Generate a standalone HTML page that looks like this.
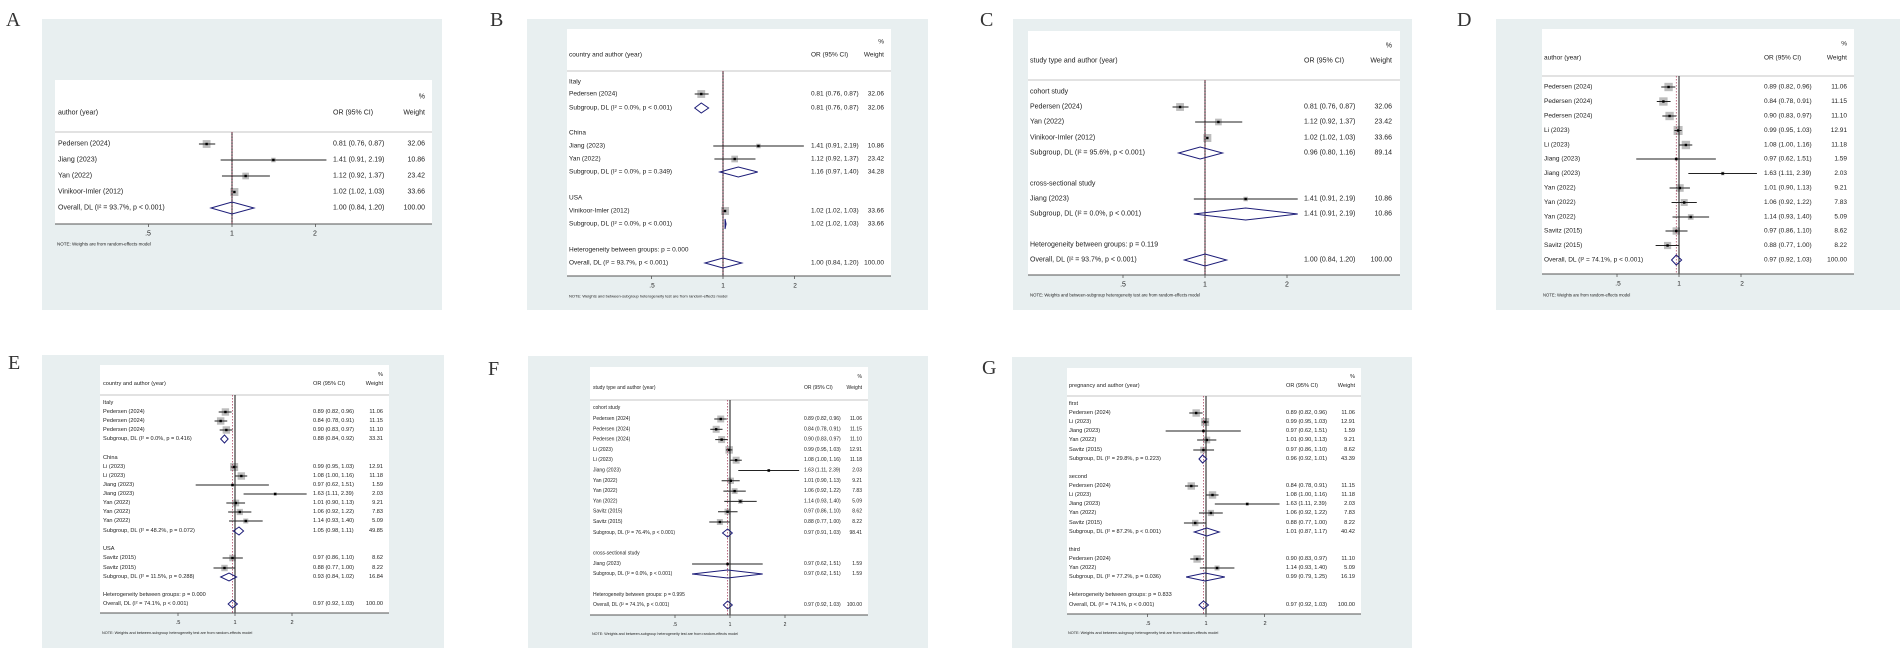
<!DOCTYPE html>
<html><head><meta charset="utf-8"><style>
html,body{margin:0;padding:0;background:#fff;width:1902px;height:654px;overflow:hidden}
svg{display:block}
text{font-family:"Liberation Sans",sans-serif;fill:#222}
.lab text{font-family:"Liberation Serif",serif;font-size:20px;fill:#333}
.r text{dominant-baseline:central}
.e{text-anchor:end}
.m{text-anchor:middle}
</style></head><body>
<svg id="s" width="1902" height="654" viewBox="0 0 1902 654" xmlns="http://www.w3.org/2000/svg">
<g fill="#e8eff0">
<rect x="42" y="19" width="400" height="291"/>
<rect x="527" y="19" width="401" height="291"/>
<rect x="1013" y="19" width="399" height="291"/>
<rect x="1496" y="19" width="404" height="291"/>
<rect x="42" y="355" width="402" height="293"/>
<rect x="528" y="356" width="400" height="292"/>
<rect x="1012" y="357" width="400" height="291"/>
</g>
<g fill="#fff">
<rect x="55" y="80" width="377" height="144"/>
<rect x="567" y="29" width="324" height="247"/>
<rect x="1028" y="31" width="372" height="244"/>
<rect x="1542" y="29" width="312" height="245"/>
<rect x="100" y="365" width="289" height="248"/>
<rect x="590" y="367" width="278" height="248"/>
<rect x="1067" y="368" width="294" height="246"/>
</g>
<g class="lab">
<text x="6" y="26">A</text><text x="490" y="26">B</text><text x="980" y="26">C</text><text x="1457" y="26">D</text>
<text x="8" y="369">E</text><text x="488" y="375">F</text><text x="982" y="374">G</text>
</g>
<g id="shapes"></g>

<!-- A -->
<g class="r" font-size="7">
<text x="425" y="97" class="e">%</text>
<text x="58" y="113">author (year)</text><text x="333" y="113">OR (95% CI)</text><text x="425" y="113" class="e">Weight</text>
<text x="58" y="144">Pedersen (2024)</text><text x="333" y="144">0.81 (0.76, 0.87)</text><text x="425" y="144" class="e">32.06</text>
<text x="58" y="160">Jiang (2023)</text><text x="333" y="160">1.41 (0.91, 2.19)</text><text x="425" y="160" class="e">10.86</text>
<text x="58" y="176">Yan (2022)</text><text x="333" y="176">1.12 (0.92, 1.37)</text><text x="425" y="176" class="e">23.42</text>
<text x="58" y="192">Vinikoor-Imler (2012)</text><text x="333" y="192">1.02 (1.02, 1.03)</text><text x="425" y="192" class="e">33.66</text>
<text x="58" y="208">Overall, DL (I² = 93.7%, p &lt; 0.001)</text><text x="333" y="208">1.00 (0.84, 1.20)</text><text x="425" y="208" class="e">100.00</text>
<text x="148" y="234" class="m">.5</text><text x="232" y="234" class="m">1</text><text x="315" y="234" class="m">2</text>
<text x="57" y="244" font-size="4.5">NOTE: Weights are from random-effects model</text>
</g>

<!-- B -->
<g class="r" font-size="6.5">
<text x="884" y="42" class="e">%</text>
<text x="569" y="55">country and author (year)</text><text x="811" y="55">OR (95% CI)</text><text x="884" y="55" class="e">Weight</text>
<text x="569" y="82">Italy</text>
<text x="569" y="94">Pedersen (2024)</text><text x="811" y="94">0.81 (0.76, 0.87)</text><text x="884" y="94" class="e">32.06</text>
<text x="569" y="108">Subgroup, DL (I² = 0.0%, p &lt; 0.001)</text><text x="811" y="108">0.81 (0.76, 0.87)</text><text x="884" y="108" class="e">32.06</text>
<text x="569" y="133">China</text>
<text x="569" y="146">Jiang (2023)</text><text x="811" y="146">1.41 (0.91, 2.19)</text><text x="884" y="146" class="e">10.86</text>
<text x="569" y="159">Yan (2022)</text><text x="811" y="159">1.12 (0.92, 1.37)</text><text x="884" y="159" class="e">23.42</text>
<text x="569" y="172">Subgroup, DL (I² = 0.0%, p = 0.349)</text><text x="811" y="172">1.16 (0.97, 1.40)</text><text x="884" y="172" class="e">34.28</text>
<text x="569" y="198">USA</text>
<text x="569" y="211">Vinikoor-Imler (2012)</text><text x="811" y="211">1.02 (1.02, 1.03)</text><text x="884" y="211" class="e">33.66</text>
<text x="569" y="224">Subgroup, DL (I² = 0.0%, p &lt; 0.001)</text><text x="811" y="224">1.02 (1.02, 1.03)</text><text x="884" y="224" class="e">33.66</text>
<text x="569" y="250">Heterogeneity between groups: p = 0.000</text>
<text x="569" y="263">Overall, DL (I² = 93.7%, p &lt; 0.001)</text><text x="811" y="263">1.00 (0.84, 1.20)</text><text x="884" y="263" class="e">100.00</text>
<text x="652" y="286" class="m">.5</text><text x="723" y="286" class="m">1</text><text x="795" y="286" class="m">2</text>
<text x="569" y="296" font-size="4">NOTE: Weights and between-subgroup heterogeneity test are from random-effects model</text>
</g>

<!-- C -->
<g class="r" font-size="7">
<text x="1392" y="46" class="e">%</text>
<text x="1030" y="61">study type and author (year)</text><text x="1304" y="61">OR (95% CI)</text><text x="1392" y="61" class="e">Weight</text>
<text x="1030" y="92">cohort study</text>
<text x="1030" y="107">Pedersen (2024)</text><text x="1304" y="107">0.81 (0.76, 0.87)</text><text x="1392" y="107" class="e">32.06</text>
<text x="1030" y="122">Yan (2022)</text><text x="1304" y="122">1.12 (0.92, 1.37)</text><text x="1392" y="122" class="e">23.42</text>
<text x="1030" y="138">Vinikoor-Imler (2012)</text><text x="1304" y="138">1.02 (1.02, 1.03)</text><text x="1392" y="138" class="e">33.66</text>
<text x="1030" y="153">Subgroup, DL (I² = 95.6%, p &lt; 0.001)</text><text x="1304" y="153">0.96 (0.80, 1.16)</text><text x="1392" y="153" class="e">89.14</text>
<text x="1030" y="184">cross-sectional study</text>
<text x="1030" y="199">Jiang (2023)</text><text x="1304" y="199">1.41 (0.91, 2.19)</text><text x="1392" y="199" class="e">10.86</text>
<text x="1030" y="214">Subgroup, DL (I² = 0.0%, p &lt; 0.001)</text><text x="1304" y="214">1.41 (0.91, 2.19)</text><text x="1392" y="214" class="e">10.86</text>
<text x="1030" y="245">Heterogeneity between groups: p = 0.119</text>
<text x="1030" y="260">Overall, DL (I² = 93.7%, p &lt; 0.001)</text><text x="1304" y="260">1.00 (0.84, 1.20)</text><text x="1392" y="260" class="e">100.00</text>
<text x="1123" y="285" class="m">.5</text><text x="1205" y="285" class="m">1</text><text x="1287" y="285" class="m">2</text>
<text x="1030" y="295" font-size="4.3">NOTE: Weights and between-subgroup heterogeneity test are from random-effects model</text>
</g>

<!-- D -->
<g class="r" font-size="6.5">
<text x="1847" y="44" class="e">%</text>
<text x="1544" y="58">author (year)</text><text x="1764" y="58">OR (95% CI)</text><text x="1847" y="58" class="e">Weight</text>
<text x="1544" y="87">Pedersen (2024)</text><text x="1764" y="87">0.89 (0.82, 0.96)</text><text x="1847" y="87" class="e">11.06</text>
<text x="1544" y="101.5">Pedersen (2024)</text><text x="1764" y="101.5">0.84 (0.78, 0.91)</text><text x="1847" y="101.5" class="e">11.15</text>
<text x="1544" y="116">Pedersen (2024)</text><text x="1764" y="116">0.90 (0.83, 0.97)</text><text x="1847" y="116" class="e">11.10</text>
<text x="1544" y="130.5">Li (2023)</text><text x="1764" y="130.5">0.99 (0.95, 1.03)</text><text x="1847" y="130.5" class="e">12.91</text>
<text x="1544" y="145">Li (2023)</text><text x="1764" y="145">1.08 (1.00, 1.16)</text><text x="1847" y="145" class="e">11.18</text>
<text x="1544" y="159">Jiang (2023)</text><text x="1764" y="159">0.97 (0.62, 1.51)</text><text x="1847" y="159" class="e">1.59</text>
<text x="1544" y="173.5">Jiang (2023)</text><text x="1764" y="173.5">1.63 (1.11, 2.39)</text><text x="1847" y="173.5" class="e">2.03</text>
<text x="1544" y="188">Yan (2022)</text><text x="1764" y="188">1.01 (0.90, 1.13)</text><text x="1847" y="188" class="e">9.21</text>
<text x="1544" y="202.5">Yan (2022)</text><text x="1764" y="202.5">1.06 (0.92, 1.22)</text><text x="1847" y="202.5" class="e">7.83</text>
<text x="1544" y="217">Yan (2022)</text><text x="1764" y="217">1.14 (0.93, 1.40)</text><text x="1847" y="217" class="e">5.09</text>
<text x="1544" y="231">Savitz (2015)</text><text x="1764" y="231">0.97 (0.86, 1.10)</text><text x="1847" y="231" class="e">8.62</text>
<text x="1544" y="245.5">Savitz (2015)</text><text x="1764" y="245.5">0.88 (0.77, 1.00)</text><text x="1847" y="245.5" class="e">8.22</text>
<text x="1544" y="260">Overall, DL (I² = 74.1%, p &lt; 0.001)</text><text x="1764" y="260">0.97 (0.92, 1.03)</text><text x="1847" y="260" class="e">100.00</text>
<text x="1618" y="284" class="m">.5</text><text x="1679" y="284" class="m">1</text><text x="1742" y="284" class="m">2</text>
<text x="1543" y="295" font-size="4.2">NOTE: Weights are from random-effects model</text>
</g>

<!-- E -->
<g class="r" font-size="5.6">
<text x="383" y="375" class="e">%</text>
<text x="103" y="384">country and author (year)</text><text x="313" y="384">OR (95% CI)</text><text x="383" y="384" class="e">Weight</text>
<text x="103" y="403">Italy</text>
<text x="103" y="412">Pedersen (2024)</text><text x="313" y="412">0.89 (0.82, 0.96)</text><text x="383" y="412" class="e">11.06</text>
<text x="103" y="421">Pedersen (2024)</text><text x="313" y="421">0.84 (0.78, 0.91)</text><text x="383" y="421" class="e">11.15</text>
<text x="103" y="430">Pedersen (2024)</text><text x="313" y="430">0.90 (0.83, 0.97)</text><text x="383" y="430" class="e">11.10</text>
<text x="103" y="439">Subgroup, DL (I² = 0.0%, p = 0.416)</text><text x="313" y="439">0.88 (0.84, 0.92)</text><text x="383" y="439" class="e">33.31</text>
<text x="103" y="458">China</text>
<text x="103" y="467">Li (2023)</text><text x="313" y="467">0.99 (0.95, 1.03)</text><text x="383" y="467" class="e">12.91</text>
<text x="103" y="476">Li (2023)</text><text x="313" y="476">1.08 (1.00, 1.16)</text><text x="383" y="476" class="e">11.18</text>
<text x="103" y="485">Jiang (2023)</text><text x="313" y="485">0.97 (0.62, 1.51)</text><text x="383" y="485" class="e">1.59</text>
<text x="103" y="494">Jiang (2023)</text><text x="313" y="494">1.63 (1.11, 2.39)</text><text x="383" y="494" class="e">2.03</text>
<text x="103" y="503">Yan (2022)</text><text x="313" y="503">1.01 (0.90, 1.13)</text><text x="383" y="503" class="e">9.21</text>
<text x="103" y="512">Yan (2022)</text><text x="313" y="512">1.06 (0.92, 1.22)</text><text x="383" y="512" class="e">7.83</text>
<text x="103" y="521">Yan (2022)</text><text x="313" y="521">1.14 (0.93, 1.40)</text><text x="383" y="521" class="e">5.09</text>
<text x="103" y="531">Subgroup, DL (I² = 48.2%, p = 0.072)</text><text x="313" y="531">1.05 (0.98, 1.11)</text><text x="383" y="531" class="e">49.85</text>
<text x="103" y="549">USA</text>
<text x="103" y="558">Savitz (2015)</text><text x="313" y="558">0.97 (0.86, 1.10)</text><text x="383" y="558" class="e">8.62</text>
<text x="103" y="568">Savitz (2015)</text><text x="313" y="568">0.88 (0.77, 1.00)</text><text x="383" y="568" class="e">8.22</text>
<text x="103" y="577">Subgroup, DL (I² = 11.5%, p = 0.288)</text><text x="313" y="577">0.93 (0.84, 1.02)</text><text x="383" y="577" class="e">16.84</text>
<text x="103" y="595">Heterogeneity between groups: p = 0.000</text>
<text x="103" y="604">Overall, DL (I² = 74.1%, p &lt; 0.001)</text><text x="313" y="604">0.97 (0.92, 1.03)</text><text x="383" y="604" class="e">100.00</text>
<text x="178" y="623" class="m">.5</text><text x="235" y="623" class="m">1</text><text x="292" y="623" class="m">2</text>
<text x="102" y="633" font-size="3.8">NOTE: Weights and between-subgroup heterogeneity test are from random-effects model</text>
</g>

<!-- F -->
<g class="r" font-size="5">
<text x="862" y="377" class="e">%</text>
<text x="593" y="388">study type and author (year)</text><text x="804" y="388">OR (95% CI)</text><text x="862" y="388" class="e">Weight</text>
<text x="593" y="408">cohort study</text>
<text x="593" y="419">Pedersen (2024)</text><text x="804" y="419">0.89 (0.82, 0.96)</text><text x="862" y="419" class="e">11.06</text>
<text x="593" y="429.3">Pedersen (2024)</text><text x="804" y="429.3">0.84 (0.78, 0.91)</text><text x="862" y="429.3" class="e">11.15</text>
<text x="593" y="439.6">Pedersen (2024)</text><text x="804" y="439.6">0.90 (0.83, 0.97)</text><text x="862" y="439.6" class="e">11.10</text>
<text x="593" y="449.9">Li (2023)</text><text x="804" y="449.9">0.99 (0.95, 1.03)</text><text x="862" y="449.9" class="e">12.91</text>
<text x="593" y="460.2">Li (2023)</text><text x="804" y="460.2">1.08 (1.00, 1.16)</text><text x="862" y="460.2" class="e">11.18</text>
<text x="593" y="470.5">Jiang (2023)</text><text x="804" y="470.5">1.63 (1.11, 2.39)</text><text x="862" y="470.5" class="e">2.03</text>
<text x="593" y="480.8">Yan (2022)</text><text x="804" y="480.8">1.01 (0.90, 1.13)</text><text x="862" y="480.8" class="e">9.21</text>
<text x="593" y="491.1">Yan (2022)</text><text x="804" y="491.1">1.06 (0.92, 1.22)</text><text x="862" y="491.1" class="e">7.83</text>
<text x="593" y="501.4">Yan (2022)</text><text x="804" y="501.4">1.14 (0.93, 1.40)</text><text x="862" y="501.4" class="e">5.09</text>
<text x="593" y="511.7">Savitz (2015)</text><text x="804" y="511.7">0.97 (0.86, 1.10)</text><text x="862" y="511.7" class="e">8.62</text>
<text x="593" y="522">Savitz (2015)</text><text x="804" y="522">0.88 (0.77, 1.00)</text><text x="862" y="522" class="e">8.22</text>
<text x="593" y="533">Subgroup, DL (I² = 76.4%, p &lt; 0.001)</text><text x="804" y="533">0.97 (0.91, 1.03)</text><text x="862" y="533" class="e">98.41</text>
<text x="593" y="553.5">cross-sectional study</text>
<text x="593" y="564">Jiang (2023)</text><text x="804" y="564">0.97 (0.62, 1.51)</text><text x="862" y="564" class="e">1.59</text>
<text x="593" y="574">Subgroup, DL (I² = 0.0%, p &lt; 0.001)</text><text x="804" y="574">0.97 (0.62, 1.51)</text><text x="862" y="574" class="e">1.59</text>
<text x="593" y="595">Heterogeneity between groups: p = 0.995</text>
<text x="593" y="605">Overall, DL (I² = 74.1%, p &lt; 0.001)</text><text x="804" y="605">0.97 (0.92, 1.03)</text><text x="862" y="605" class="e">100.00</text>
<text x="675" y="625" class="m">.5</text><text x="730" y="625" class="m">1</text><text x="785" y="625" class="m">2</text>
<text x="592" y="634" font-size="3.7">NOTE: Weights and between-subgroup heterogeneity test are from random-effects model</text>
</g>

<!-- G -->
<g class="r" font-size="5.6">
<text x="1355" y="377" class="e">%</text>
<text x="1069" y="386">pregnancy and author (year)</text><text x="1286" y="386">OR (95% CI)</text><text x="1355" y="386" class="e">Weight</text>
<text x="1069" y="404">first</text>
<text x="1069" y="413">Pedersen (2024)</text><text x="1286" y="413">0.89 (0.82, 0.96)</text><text x="1355" y="413" class="e">11.06</text>
<text x="1069" y="422">Li (2023)</text><text x="1286" y="422">0.99 (0.95, 1.03)</text><text x="1355" y="422" class="e">12.91</text>
<text x="1069" y="431">Jiang (2023)</text><text x="1286" y="431">0.97 (0.62, 1.51)</text><text x="1355" y="431" class="e">1.59</text>
<text x="1069" y="440">Yan (2022)</text><text x="1286" y="440">1.01 (0.90, 1.13)</text><text x="1355" y="440" class="e">9.21</text>
<text x="1069" y="450">Savitz (2015)</text><text x="1286" y="450">0.97 (0.86, 1.10)</text><text x="1355" y="450" class="e">8.62</text>
<text x="1069" y="459">Subgroup, DL (I² = 29.8%, p = 0.223)</text><text x="1286" y="459">0.96 (0.92, 1.01)</text><text x="1355" y="459" class="e">43.39</text>
<text x="1069" y="477">second</text>
<text x="1069" y="486">Pedersen (2024)</text><text x="1286" y="486">0.84 (0.78, 0.91)</text><text x="1355" y="486" class="e">11.15</text>
<text x="1069" y="495">Li (2023)</text><text x="1286" y="495">1.08 (1.00, 1.16)</text><text x="1355" y="495" class="e">11.18</text>
<text x="1069" y="504">Jiang (2023)</text><text x="1286" y="504">1.63 (1.11, 2.39)</text><text x="1355" y="504" class="e">2.03</text>
<text x="1069" y="513">Yan (2022)</text><text x="1286" y="513">1.06 (0.92, 1.22)</text><text x="1355" y="513" class="e">7.83</text>
<text x="1069" y="523">Savitz (2015)</text><text x="1286" y="523">0.88 (0.77, 1.00)</text><text x="1355" y="523" class="e">8.22</text>
<text x="1069" y="532">Subgroup, DL (I² = 87.2%, p &lt; 0.001)</text><text x="1286" y="532">1.01 (0.87, 1.17)</text><text x="1355" y="532" class="e">40.42</text>
<text x="1069" y="550">third</text>
<text x="1069" y="559">Pedersen (2024)</text><text x="1286" y="559">0.90 (0.83, 0.97)</text><text x="1355" y="559" class="e">11.10</text>
<text x="1069" y="568">Yan (2022)</text><text x="1286" y="568">1.14 (0.93, 1.40)</text><text x="1355" y="568" class="e">5.09</text>
<text x="1069" y="577">Subgroup, DL (I² = 77.2%, p = 0.036)</text><text x="1286" y="577">0.99 (0.79, 1.25)</text><text x="1355" y="577" class="e">16.19</text>
<text x="1069" y="595">Heterogeneity between groups: p = 0.833</text>
<text x="1069" y="605">Overall, DL (I² = 74.1%, p &lt; 0.001)</text><text x="1286" y="605">0.97 (0.92, 1.03)</text><text x="1355" y="605" class="e">100.00</text>
<text x="1148" y="624" class="m">.5</text><text x="1206" y="624" class="m">1</text><text x="1265" y="624" class="m">2</text>
<text x="1068" y="633" font-size="3.8">NOTE: Weights and between-subgroup heterogeneity test are from random-effects model</text>
</g>
</svg>
<script>
(function(){
var NS="http://www.w3.org/2000/svg",G=document.getElementById("shapes");
function el(t,a){var e=document.createElementNS(NS,t);for(var k in a)e.setAttribute(k,a[k]);G.appendChild(e);return e;}
var P=[
{x0:55,x1:432,px:232,k:83.5,sep:132,ax:224,ov:1.00,dh:6,ms:8,rows:[[144,.81,.76,.87,32.06],[160,1.41,.91,2.19,10.86],[176,1.12,.92,1.37,23.42],[192,1.02,1.02,1.03,33.66],[208,1,.84,1.2,'d']]},
{x0:567,x1:891,px:723,k:71.5,sep:71,ax:276,ov:1.00,dh:5,ms:8,rows:[[94,.81,.76,.87,32.06],[108,.81,.76,.87,'d'],[146,1.41,.91,2.19,10.86],[159,1.12,.92,1.37,23.42],[172,1.16,.97,1.40,'d'],[211,1.02,1.02,1.03,33.66],[224,1.02,1.02,1.03,'d'],[263,1,.84,1.2,'d']]},
{x0:1028,x1:1400,px:1205,k:82,sep:80,ax:275,ov:1.00,dh:6,ms:8,rows:[[107,.81,.76,.87,32.06],[122,1.12,.92,1.37,23.42],[138,1.02,1.02,1.03,33.66],[153,.96,.80,1.16,'d'],[199,1.41,.91,2.19,10.86],[214,1.41,.91,2.19,'d'],[260,1,.84,1.2,'d']]},
{x0:1542,x1:1854,px:1679,k:62,sep:76,ax:274,ov:.97,dh:5,ms:9,rows:[[87,.89,.82,.96,11.06],[101.5,.84,.78,.91,11.15],[116,.90,.83,.97,11.10],[130.5,.99,.95,1.03,12.91],[145,1.08,1.00,1.16,11.18],[159,.97,.62,1.51,1.59],[173.5,1.63,1.11,2.39,2.03],[188,1.01,.90,1.13,9.21],[202.5,1.06,.92,1.22,7.83],[217,1.14,.93,1.40,5.09],[231,.97,.86,1.10,8.62],[245.5,.88,.77,1.00,8.22],[260,.97,.92,1.03,'d']]},
{x0:100,x1:389,px:235,k:57,sep:395,ax:613,ov:.97,dh:4,ms:8,rows:[[412,.89,.82,.96,11.06],[421,.84,.78,.91,11.15],[430,.90,.83,.97,11.10],[439,.88,.84,.92,'d'],[467,.99,.95,1.03,12.91],[476,1.08,1.00,1.16,11.18],[485,.97,.62,1.51,1.59],[494,1.63,1.11,2.39,2.03],[503,1.01,.90,1.13,9.21],[512,1.06,.92,1.22,7.83],[521,1.14,.93,1.40,5.09],[531,1.05,.98,1.11,'d'],[558,.97,.86,1.10,8.62],[568,.88,.77,1.00,8.22],[577,.93,.84,1.02,'d'],[604,.97,.92,1.03,'d']]},
{x0:590,x1:868,px:730,k:55,sep:400,ax:615,ov:.97,dh:4,ms:7.5,rows:[[419,.89,.82,.96,11.06],[429.3,.84,.78,.91,11.15],[439.6,.90,.83,.97,11.10],[449.9,.99,.95,1.03,12.91],[460.2,1.08,1.00,1.16,11.18],[470.5,1.63,1.11,2.39,2.03],[480.8,1.01,.90,1.13,9.21],[491.1,1.06,.92,1.22,7.83],[501.4,1.14,.93,1.40,5.09],[511.7,.97,.86,1.10,8.62],[522,.88,.77,1.00,8.22],[533,.97,.91,1.03,'d'],[564,.97,.62,1.51,1.59],[574,.97,.62,1.51,'d'],[605,.97,.92,1.03,'d']]},
{x0:1067,x1:1361,px:1206,k:58.5,sep:396,ax:614,ov:.97,dh:4,ms:8,rows:[[413,.89,.82,.96,11.06],[422,.99,.95,1.03,12.91],[431,.97,.62,1.51,1.59],[440,1.01,.90,1.13,9.21],[450,.97,.86,1.10,8.62],[459,.96,.92,1.01,'d'],[486,.84,.78,.91,11.15],[495,1.08,1.00,1.16,11.18],[504,1.63,1.11,2.39,2.03],[513,1.06,.92,1.22,7.83],[523,.88,.77,1.00,8.22],[532,1.01,.87,1.17,'d'],[559,.90,.83,.97,11.10],[568,1.14,.93,1.40,5.09],[577,.99,.79,1.25,'d'],[605,.97,.92,1.03,'d']]}
];
P.forEach(function(p){
 function X(v){return p.px+Math.log2(v)*p.k;}
 var wmax=0;p.rows.forEach(function(r){if(r[4]!=='d'&&r[4]>wmax)wmax=r[4];});
 el("line",{x1:p.x0,x2:p.x1,y1:p.sep,y2:p.sep,stroke:"#e2e2e2","stroke-width":2});
 p.rows.forEach(function(r){if(r[4]!=='d'){var s=p.ms*Math.sqrt(r[4]/wmax);el("rect",{x:X(r[1])-s/2,y:r[0]-s/2,width:s,height:s,fill:"#bdbdbd"});}});
 el("line",{x1:p.px,x2:p.px,y1:p.sep,y2:p.ax,stroke:"#111","stroke-width":1});
 el("line",{x1:X(p.ov),x2:X(p.ov),y1:p.sep,y2:p.ax,stroke:"#a03050","stroke-width":0.7,"stroke-dasharray":"1.5,1.5"});
 p.rows.forEach(function(r){
  var y=r[0];
  if(r[4]==='d'){
   el("polygon",{points:[X(r[2]),y,X(r[1]),y-p.dh,X(r[3]),y,X(r[1]),y+p.dh].join(" "),fill:"none",stroke:"#1c1c78","stroke-width":1});
  } else {
   el("line",{x1:X(r[2]),x2:X(r[3]),y1:y,y2:y,stroke:"#222","stroke-width":1});
   el("rect",{x:X(r[1])-1.2,y:y-1.2,width:2.4,height:2.4,fill:"#000"});
  }
 });
 el("line",{x1:p.x0,x2:p.x1,y1:p.ax,y2:p.ax,stroke:"#555","stroke-width":1});
 [.5,1,2].forEach(function(t){el("line",{x1:X(t),x2:X(t),y1:p.ax,y2:p.ax+3,stroke:"#555","stroke-width":0.8});});
});
})();
</script>
</body></html>
